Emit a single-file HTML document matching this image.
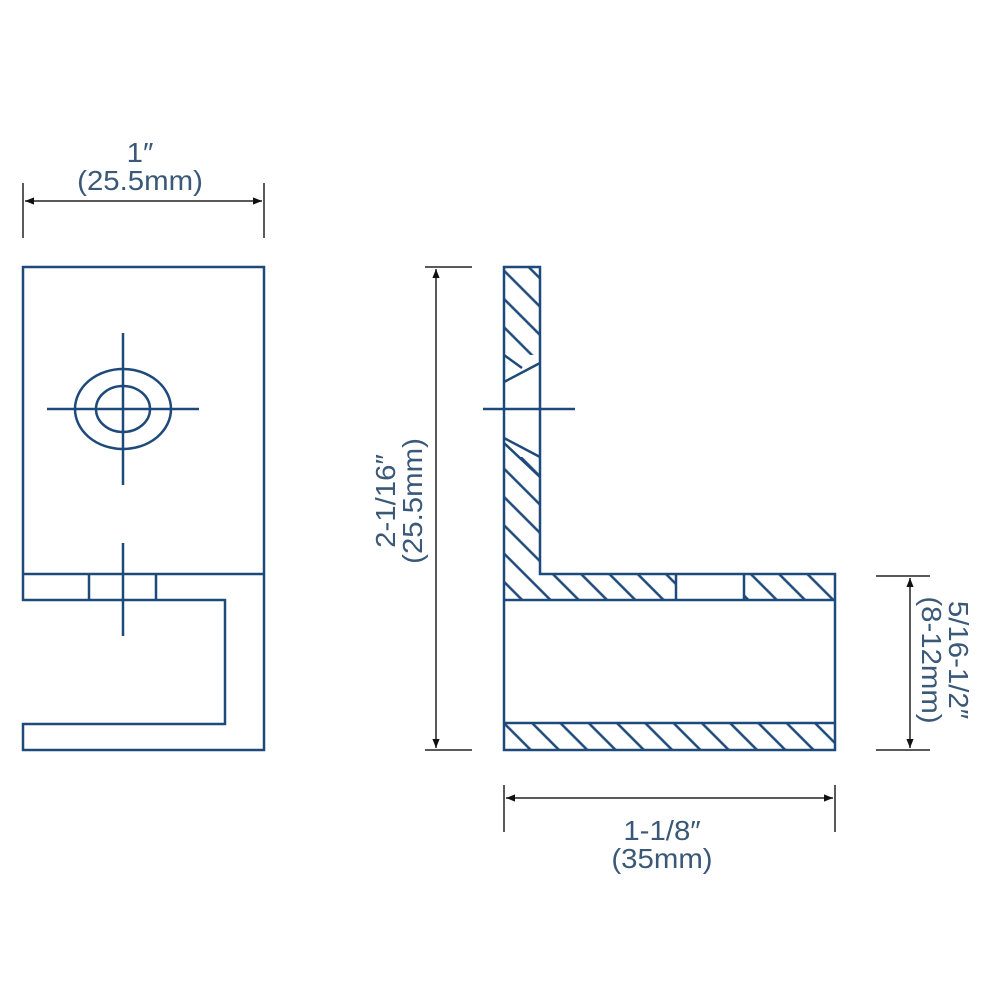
<!DOCTYPE html>
<html><head><style>
html,body{margin:0;padding:0;background:#fff;}
svg{display:block;}
text{font-family:"Liberation Sans",sans-serif;fill:#3a5878;font-size:28px;}
</style></head><body>
<svg width="1000" height="1000" viewBox="0 0 1000 1000" xmlns="http://www.w3.org/2000/svg">
<defs>
<pattern id="h" patternUnits="userSpaceOnUse" width="20" height="20" patternTransform="rotate(-45)">
<line x1="5" y1="0" x2="5" y2="20" stroke="#1d4a7a" stroke-width="2.5"/>
</pattern>
<marker id="a" viewBox="0 0 10 10" refX="10" refY="5" markerWidth="16" markerHeight="9" markerUnits="userSpaceOnUse" orient="auto-start-reverse">
<path d="M0,1 L10,5 L0,9 Z" fill="#111"/>
</marker>
</defs>
<g fill="none" stroke="#1d4a7a" stroke-width="2.5">
<path d="M23,267 H264 V750 H23 V724 H225 V600 H23 Z"/>
<line x1="23" y1="574" x2="264" y2="574"/>
<line x1="89" y1="574" x2="89" y2="600"/>
<line x1="156" y1="574" x2="156" y2="600"/>
<ellipse cx="123" cy="409" rx="48" ry="40"/>
<ellipse cx="123" cy="409" rx="27" ry="23"/>
<line x1="47" y1="409" x2="199" y2="409"/>
<line x1="123" y1="333" x2="123" y2="485"/>
<line x1="123" y1="543" x2="123" y2="636"/>
<rect x="504" y="267" width="36" height="88" fill="url(#h)" stroke="none"/>
<rect x="504" y="457" width="36" height="143" fill="url(#h)" stroke="none"/>
<rect x="540" y="574" width="136" height="26" fill="url(#h)" stroke="none"/>
<rect x="744" y="574" width="91" height="26" fill="url(#h)" stroke="none"/>
<rect x="504" y="723" width="331" height="27" fill="url(#h)" stroke="none"/>
<path d="M504,267 H540 V574 H835 V750 H504 Z"/>
<line x1="504" y1="600" x2="835" y2="600"/>
<line x1="504" y1="723" x2="835" y2="723"/>
<line x1="676" y1="574" x2="676" y2="600"/>
<line x1="744" y1="574" x2="744" y2="600"/>
<line x1="504" y1="382" x2="540" y2="363"/>
<line x1="504" y1="355" x2="522" y2="368"/>
<line x1="504" y1="438" x2="540" y2="457"/>
<line x1="504" y1="443" x2="540" y2="477"/>
<line x1="483" y1="409" x2="575" y2="409"/>
</g>
<g stroke="#222" stroke-width="1.5" fill="none">
<line x1="23" y1="183" x2="23" y2="238"/>
<line x1="264" y1="183" x2="264" y2="238"/>
<line x1="25" y1="201" x2="262" y2="201" marker-start="url(#a)" marker-end="url(#a)"/>
<line x1="425" y1="267" x2="472" y2="267"/>
<line x1="425" y1="750" x2="472" y2="750"/>
<line x1="436" y1="269" x2="436" y2="748" marker-start="url(#a)" marker-end="url(#a)"/>
<line x1="876" y1="576" x2="930" y2="576"/>
<line x1="876" y1="750" x2="930" y2="750"/>
<line x1="910" y1="578" x2="910" y2="748" marker-start="url(#a)" marker-end="url(#a)"/>
<line x1="504" y1="785" x2="504" y2="832"/>
<line x1="835" y1="785" x2="835" y2="832"/>
<line x1="506" y1="798" x2="833" y2="798" marker-start="url(#a)" marker-end="url(#a)"/>
</g>
<g transform="translate(140,0) scale(1.05,1)">
<text x="0" y="162" text-anchor="middle">1″</text>
<text x="0" y="190" text-anchor="middle">(25.5mm)</text>
</g>
<g transform="translate(662,0) scale(1.05,1)">
<text x="0" y="840" text-anchor="middle">1-1/8″</text>
<text x="0" y="868" text-anchor="middle">(35mm)</text>
</g>
<g transform="translate(398,501) rotate(-90) scale(1.05,1)">
<text x="0" y="-3" text-anchor="middle">2-1/16″</text>
<text x="0" y="24" text-anchor="middle">(25.5mm)</text>
</g>
<g transform="translate(946,660) rotate(90) scale(1.05,1)">
<text x="0" y="-3" text-anchor="middle">5/16-1/2″</text>
<text x="0" y="24" text-anchor="middle">(8-12mm)</text>
</g>
</svg>
</body></html>
